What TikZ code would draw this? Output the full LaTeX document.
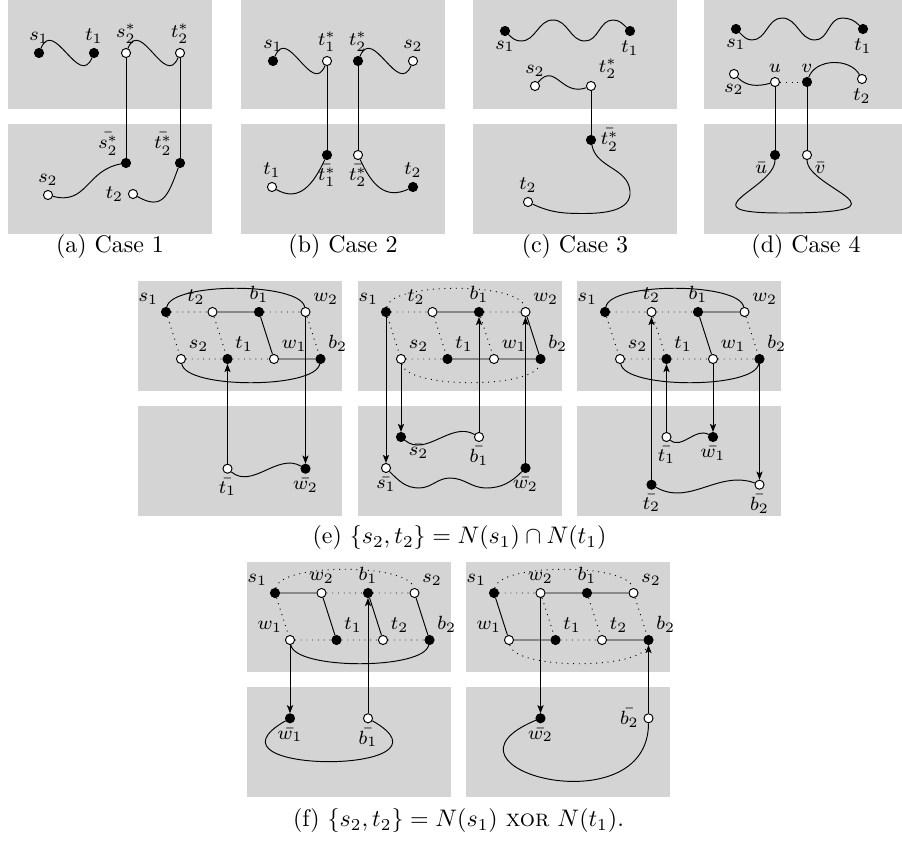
\documentclass[tikz,border=0pt]{standalone}
\usepackage{amsmath}
\usetikzlibrary{arrows,arrows.meta,positioning}
\tikzset{
  bv/.style={circle, draw, fill=black, inner sep=0pt, minimum size=3.8pt},
  wv/.style={circle, draw, fill=white, inner sep=0pt, minimum size=3.8pt},
  panel/.style={fill=black!17},
  nonedge/.style={dotted},
  every label/.style={font=\footnotesize, inner sep=1.2pt},
  label distance=0.6pt
}
\newcommand{\twopanels}{%
  \fill[panel] (0,0) rectangle (204,-109.5);
  \fill[panel] (0,-125) rectangle (204,-234.5);}

\begin{document}
\begin{tikzpicture}[x=0.418pt, y=0.418pt, >={Stealth[length=3.4pt,width=2.6pt,inset=0.8pt]}]
  \useasboundingbox (0,0) rectangle (902,-842);

  % (a) Case 1
  \begin{scope}[shift={(8,1)}]
    \twopanels
    \node[bv, label=above:$s_1$]             (a-s1)  at (31,-54)   {};
    \node[bv, label=above:$t_1$]             (a-t1)  at (86,-54)   {};
    \node[wv, label=above:$s_2^*$]           (a-s2s) at (118,-54)  {};
    \node[wv, label=above:$t_2^*$]           (a-t2s) at (172,-54)  {};
    \node[bv, label=above left:$\bar{s_2^*}$] (a-s2b) at (118,-164) {};
    \node[bv, label=above left:$\bar{t_2^*}$] (a-t2b) at (172,-164) {};
    \node[wv, label=above:$s_2$]             (a-s2)  at (40,-196)  {};
    \node[wv, label=left:$t_2$]              (a-t2)  at (125,-195) {};
    \draw (a-s1) .. controls +(15,36) and +(-15,-36) .. (a-t1);
    \draw (a-s2s) .. controls +(15,36) and +(-15,-36) .. (a-t2s);
    \draw (a-s2s) -- (a-s2b) (a-t2s) -- (a-t2b);
    \draw (a-s2) to[out=-15,in=190,looseness=1.2] (a-s2b);
    \draw (a-t2) to[out=-30,in=250,looseness=1.5] (a-t2b);
  \end{scope}

  % (b) Case 2
  \begin{scope}[shift={(241,1)}]
    \twopanels
    \node[bv, label=above:$s_1$]           (b-s1)   at (32,-62)   {};
    \node[wv, label=above:$t_1^*$]         (b-t1s)  at (86,-62)   {};
    \node[bv, label=above:$t_2^*$]         (b-t2s)  at (117,-62)  {};
    \node[wv, label=above:$s_2$]           (b-s2)   at (172,-62)  {};
    \node[bv, label=below:$\bar{t_1^*}$]   (b-t1sb) at (86,-156)  {};
    \node[wv, label=below:$\bar{t_2^*}$]   (b-t2sb) at (117,-156) {};
    \node[wv, label=above:$t_1$]           (b-t1)   at (31,-188)  {};
    \node[bv, label=above:$t_2$]           (b-t2)   at (172,-188) {};
    \draw (b-s1) .. controls +(15,36) and +(-15,-36) .. (b-t1s);
    \draw (b-t2s) .. controls +(15,36) and +(-15,-36) .. (b-s2);
    \draw (b-t1s) -- (b-t1sb) (b-t2s) -- (b-t2sb);
    \draw (b-t1) to[out=-30,in=245,looseness=1.2] (b-t1sb);
    \draw (b-t2sb) to[out=-65,in=205,looseness=1.2] (b-t2);
  \end{scope}

  % (c) Case 3
  \begin{scope}[shift={(473,1)}]
    \twopanels
    \node[bv, label=below:$s_1$]            (c-s1)   at (32,-32)   {};
    \node[bv, label=below:$t_1$]            (c-t1)   at (157,-32)  {};
    \node[wv, label=above:$s_2$]            (c-s2)   at (62,-87)   {};
    \node[wv, label=above right:$t_2^*$]    (c-t2s)  at (118,-87)  {};
    \node[bv, label=right:$\bar{t_2^*}$]    (c-t2sb) at (118,-141) {};
    \node[wv, label=above:$t_2$]            (c-t2)   at (55,-203)  {};
    \draw (c-s1) to[out=-45,in=180] (48,-42) to[out=0,in=180] (80,-21)
      to[out=0,in=180] (112,-42) to[out=0,in=180] (140,-21) to[out=0,in=135] (c-t1);
    \draw (c-s2) to[out=50,in=200,looseness=1.4] (c-t2s);
    \draw (c-t2s) -- (c-t2sb);
    \draw (c-t2sb) to[out=-80,in=95] (157,-192) to[out=-85,in=0] (110,-214.5)
      to[out=180,in=-25] (c-t2);
  \end{scope}

  % (d) Case 4
  \begin{scope}[shift={(704,1)}]
    \twopanels
    \node[bv, label=below:$s_1$]             (d-s1) at (32,-30)   {};
    \node[bv, label=below:$t_1$]             (d-t1) at (159,-30)  {};
    \node[wv, label=below:$s_2$]             (d-s2) at (30,-75)   {};
    \node[wv, label=above:$u$]               (d-u)  at (71,-83)   {};
    \node[bv, label=above:$v$]               (d-v)  at (103,-83)  {};
    \node[wv, label=below:$t_2$]             (d-t2) at (158,-80)  {};
    \node[bv, label=below left:$\bar{u}$]    (d-ub) at (71,-156)  {};
    \node[wv, label=below right:$\bar{v}$]   (d-vb) at (103,-156) {};
    \draw (d-s1) to[out=-45,in=180] (48,-41) to[out=0,in=180] (78,-19)
      to[out=0,in=180] (111,-41) to[out=0,in=180] (138,-19) to[out=0,in=135] (d-t1);
    \draw (d-s2) to[out=-45,in=195] (d-u);
    \draw[nonedge] (d-u) -- (d-v);
    \draw (d-v) to[out=70,in=120] (d-t2);
    \draw (d-u) -- (d-ub) (d-v) -- (d-vb);
    \draw (d-ub) .. controls +(0,-34) and +(-100,0) .. (78,-214)
      .. controls +(140,0) and +(0,-34) .. (d-vb);
  \end{scope}

  \node (cap-a) at (110,-247) {(a) Case 1};
  \node (cap-b) at (343,-247) {(b) Case 2};
  \node (cap-c) at (575,-247) {(c) Case 3};
  \node (cap-d) at (806,-247) {(d) Case 4};

  % (e) first panel
  \begin{scope}[shift={(138,-281)}]
    \twopanels
    \node[bv, label=above left:$s_1$]  (e1-s1) at (28,-31)    {};
    \node[wv, label=above left:$t_2$]  (e1-t2) at (74.5,-31)  {};
    \node[bv, label=above:$b_1$]       (e1-b1) at (121,-31)   {};
    \node[wv, label=above right:$w_2$] (e1-w2) at (167.5,-31) {};
    \node[wv, label=above right:$s_2$] (e1-s2) at (43,-78)    {};
    \node[bv, label=above right:$t_1$] (e1-t1) at (89.5,-78)  {};
    \node[wv, label=above right:$w_1$] (e1-w1) at (136,-78)   {};
    \node[bv, label=above right:$b_2$] (e1-b2) at (182.5,-78) {};
    \node[wv, label=below:$\bar{t_1}$] (e1-t1b) at (89.5,-187.7)  {};
    \node[bv, label=below:$\bar{w_2}$] (e1-w2b) at (167.5,-187.7) {};
    \draw[nonedge] (e1-s1) -- (e1-t2) (e1-b1) -- (e1-w2) (e1-s1) -- (e1-s2)
      (e1-t2) -- (e1-t1) (e1-w2) -- (e1-b2) (e1-s2) -- (e1-t1) (e1-t1) -- (e1-w1);
    \draw (e1-t2) -- (e1-b1) -- (e1-w1) -- (e1-b2);
    \draw (e1-s1) .. controls +(5,30) and +(-5,30) .. (e1-w2);
    \draw (e1-s2) .. controls +(5,-30) and +(-5,-30) .. (e1-b2);
    \draw (e1-t1b) to[out=-40,in=150] (e1-w2b);
    \draw[->] (e1-t1b) -- (e1-t1);
    \draw[->] (e1-w2) -- (e1-w2b);
  \end{scope}

  % (e) second panel
  \begin{scope}[shift={(358,-281)}]
    \twopanels
    \node[bv, label=above left:$s_1$]  (e2-s1) at (28,-31)    {};
    \node[wv, label=above left:$t_2$]  (e2-t2) at (74.5,-31)  {};
    \node[bv, label=above:$b_1$]       (e2-b1) at (121,-31)   {};
    \node[wv, label=above right:$w_2$] (e2-w2) at (167.5,-31) {};
    \node[wv, label=above right:$s_2$] (e2-s2) at (43,-78)    {};
    \node[bv, label=above right:$t_1$] (e2-t1) at (89.5,-78)  {};
    \node[wv, label=above right:$w_1$] (e2-w1) at (136,-78)   {};
    \node[bv, label=above right:$b_2$] (e2-b2) at (182.5,-78) {};
    \node[bv, label=below right:$\bar{s_2}$] (e2-s2b) at (43,-156)    {};
    \node[wv, label=below:$\bar{b_1}$]       (e2-b1b) at (121,-156)   {};
    \node[wv, label=below:$\bar{s_1}$]       (e2-s1b) at (28,-187)    {};
    \node[bv, label=below:$\bar{w_2}$]       (e2-w2b) at (167.5,-187) {};
    \draw[nonedge] (e2-s1) -- (e2-t2) (e2-b1) -- (e2-w2) (e2-s1) -- (e2-s2)
      (e2-t2) -- (e2-t1) (e2-b1) -- (e2-w1) (e2-s2) -- (e2-t1);
    \draw (e2-t2) -- (e2-b1) (e2-w2) -- (e2-b2) (e2-t1) -- (e2-w1) -- (e2-b2);
    \draw[nonedge] (e2-s1) .. controls +(5,30) and +(-5,30) .. (e2-w2);
    \draw[nonedge] (e2-s2) .. controls +(5,-30) and +(-5,-30) .. (e2-b2);
    \draw (e2-s2b) to[out=-40,in=150] (e2-b1b);
    \draw (e2-s1b) to[out=-45,in=180] (61,-207) to[out=0,in=180] (92,-197)
      to[out=0,in=180] (128,-207) to[out=0,in=-135] (e2-w2b);
    \draw[->] (e2-s1) -- (e2-s1b);
    \draw[->] (e2-s2) -- (e2-s2b);
    \draw[->] (e2-b1b) -- (e2-b1);
    \draw[->] (e2-w2b) -- (e2-w2);
  \end{scope}

  % (e) third panel
  \begin{scope}[shift={(577,-281)}]
    \twopanels
    \node[bv, label=above left:$s_1$]  (e3-s1) at (28,-31)    {};
    \node[wv, label=above:$t_2$]       (e3-t2) at (74.5,-31)  {};
    \node[bv, label=above:$b_1$]       (e3-b1) at (121,-31)   {};
    \node[wv, label=above right:$w_2$] (e3-w2) at (167.5,-31) {};
    \node[wv, label=above right:$s_2$] (e3-s2) at (43,-78)    {};
    \node[bv, label=above right:$t_1$] (e3-t1) at (89.5,-78)  {};
    \node[wv, label=above right:$w_1$] (e3-w1) at (136,-78)   {};
    \node[bv, label=above right:$b_2$] (e3-b2) at (182.5,-78) {};
    \node[wv, label=below:$\bar{t_1}$] (e3-t1b) at (89.5,-156)   {};
    \node[bv, label=below:$\bar{w_1}$] (e3-w1b) at (136,-156)    {};
    \node[bv, label=below:$\bar{t_2}$] (e3-t2b) at (74.5,-203.7) {};
    \node[wv, label=below:$\bar{b_2}$] (e3-b2b) at (182.5,-203.7) {};
    \draw[nonedge] (e3-s1) -- (e3-t2) -- (e3-b1) (e3-s1) -- (e3-s2) (e3-t2) -- (e3-t1)
      (e3-w2) -- (e3-b2) (e3-s2) -- (e3-t1) -- (e3-w1) -- (e3-b2);
    \draw (e3-w2) -- (e3-b1) -- (e3-w1);
    \draw (e3-s1) .. controls +(5,30) and +(-5,30) .. (e3-w2);
    \draw (e3-s2) .. controls +(5,-30) and +(-5,-30) .. (e3-b2);
    \draw (e3-t1b) to[out=-40,in=150] (e3-w1b);
    \draw (e3-t2b) to[out=-30,in=160] (e3-b2b);
    \draw[->] (e3-t2b) -- (e3-t2);
    \draw[->] (e3-t1b) -- (e3-t1);
    \draw[->] (e3-w1) -- (e3-w1b);
    \draw[->] (e3-b2) -- (e3-b2b);
  \end{scope}

  \node (cap-e) at (459.5,-538) {(e) $\{s_2, t_2\} = N(s_1) \cap N(t_1)$};

  % (f) first panel
  \begin{scope}[shift={(247,-562)}]
    \twopanels
    \node[bv, label=above left:$s_1$]  (f1-s1) at (28,-31)    {};
    \node[wv, label=above:$w_2$]       (f1-w2) at (74.5,-31)  {};
    \node[bv, label=above:$b_1$]       (f1-b1) at (121,-31)   {};
    \node[wv, label=above right:$s_2$] (f1-s2) at (167.5,-31) {};
    \node[wv, label=above left:$w_1$]  (f1-w1) at (43,-78)    {};
    \node[bv, label=above right:$t_1$] (f1-t1) at (89.5,-78)  {};
    \node[wv, label=above right:$t_2$] (f1-t2) at (136,-78)   {};
    \node[bv, label=above right:$b_2$] (f1-b2) at (182.5,-78) {};
    \node[bv, label=below:$\bar{w_1}$] (f1-w1b) at (43,-156.3)  {};
    \node[wv, label=below:$\bar{b_1}$] (f1-b1b) at (121,-156.3) {};
    \draw[nonedge] (f1-w2) -- (f1-b1) -- (f1-s2) (f1-s1) -- (f1-w1)
      (f1-w1) -- (f1-t1) -- (f1-t2) -- (f1-b2);
    \draw (f1-s1) -- (f1-w2) -- (f1-t1) (f1-b1) -- (f1-t2) (f1-s2) -- (f1-b2);
    \draw[nonedge] (f1-s1) .. controls +(5,30) and +(-5,30) .. (f1-s2);
    \draw (f1-w1) .. controls +(5,-30) and +(-5,-30) .. (f1-b2);
    \draw (f1-w1b) .. controls +(-100,-57) and +(100,-57) .. (f1-b1b);
    \draw[->] (f1-w1) -- (f1-w1b);
    \draw[->] (f1-b1b) -- (f1-b1);
  \end{scope}

  % (f) second panel
  \begin{scope}[shift={(466,-562)}]
    \twopanels
    \node[bv, label=above left:$s_1$]  (f2-s1) at (28,-31)    {};
    \node[wv, label=above:$w_2$]       (f2-w2) at (74.5,-31)  {};
    \node[bv, label=above:$b_1$]       (f2-b1) at (121,-31)   {};
    \node[wv, label=above right:$s_2$] (f2-s2) at (167.5,-31) {};
    \node[wv, label=above left:$w_1$]  (f2-w1) at (43,-78)    {};
    \node[bv, label=above right:$t_1$] (f2-t1) at (89.5,-78)  {};
    \node[wv, label=above right:$t_2$] (f2-t2) at (136,-78)   {};
    \node[bv, label=above right:$b_2$] (f2-b2) at (182.5,-78) {};
    \node[bv, label=below:$\bar{w_2}$] (f2-w2b) at (74.5,-156.3)  {};
    \node[wv, label=left:$\bar{b_2}$]  (f2-b2b) at (182.5,-156.3) {};
    \draw[nonedge] (f2-s1) -- (f2-w2) -- (f2-t1) -- (f2-t2) (f2-b1) -- (f2-t2)
      (f2-s2) -- (f2-b2);
    \draw (f2-w2) -- (f2-b1) -- (f2-s2) (f2-s1) -- (f2-w1) -- (f2-t1) (f2-t2) -- (f2-b2);
    \draw[nonedge] (f2-s1) .. controls +(5,30) and +(-5,30) .. (f2-s2);
    \draw[nonedge] (f2-w1) .. controls +(5,-30) and +(-5,-30) .. (f2-b2);
    \draw (f2-w2b) .. controls +(-120,-50) and +(0,-110) .. (f2-b2b);
    \draw[->] (f2-w2) -- (f2-w2b);
    \draw[->] (f2-b2b) -- (f2-b2);
  \end{scope}

  \node (cap-f) at (458.5,-821) {(f) $\{s_2, t_2\} = N(s_1)$ \textsc{xor} $N(t_1)$.};
\end{tikzpicture}
\end{document}
